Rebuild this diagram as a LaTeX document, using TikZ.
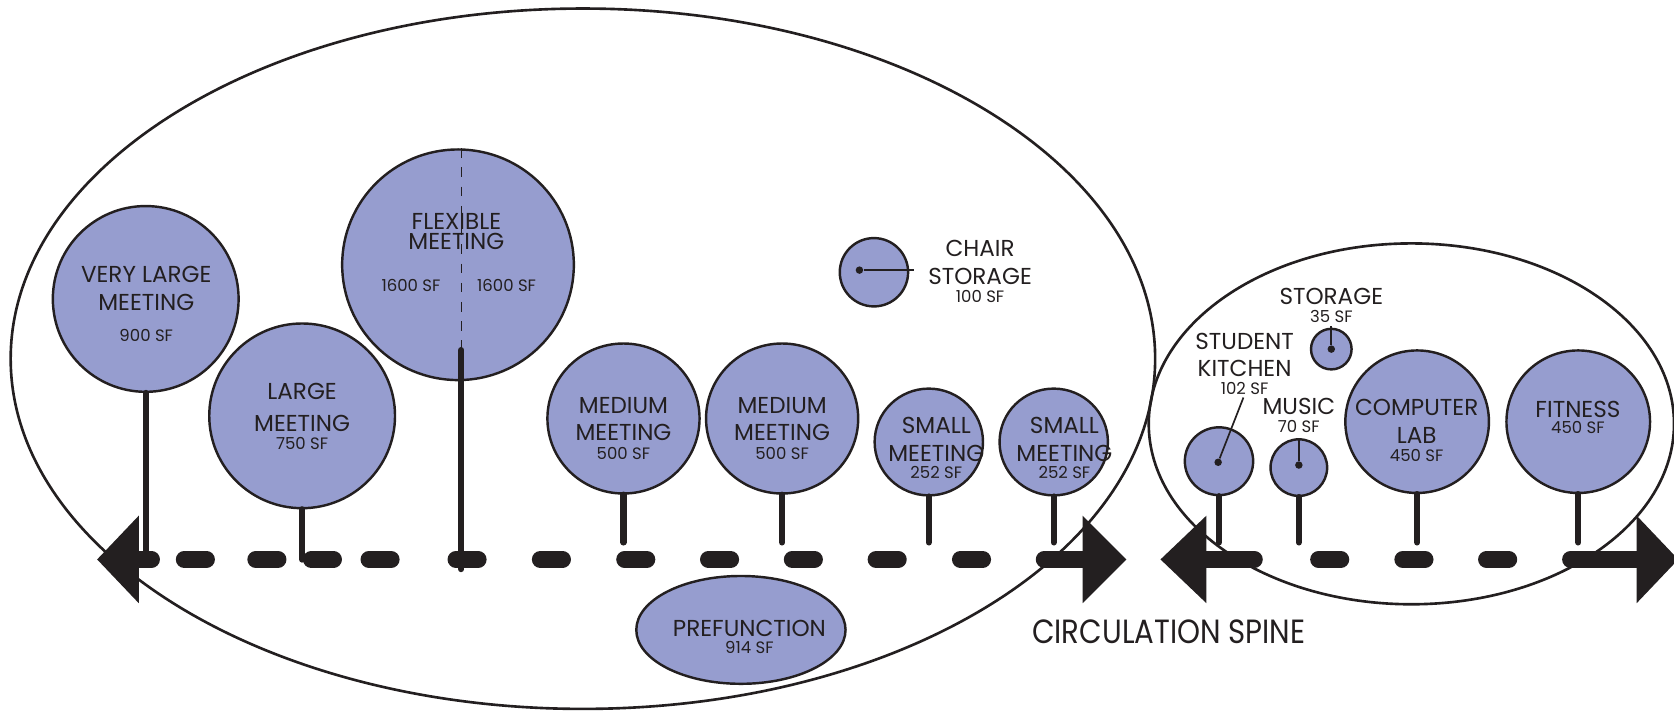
\documentclass[tikz,border=0pt]{standalone}
\usepackage{graphicx}
\usepackage{fontspec}
\setmainfont{Poppins}
\usepackage{tikz}
\usetikzlibrary{shapes.geometric}
\definecolor{ink}{RGB}{35,31,32}
\definecolor{roomblue}{RGB}{150,157,207}
\newcommand{\roomfont}{\fontsize{12.3}{15}\selectfont}
\newcommand{\areafont}{\fontsize{8.8}{9}\selectfont}
\newcommand{\spinefont}{\fontsize{17.9}{20}\selectfont}
\tikzset{
	room/.style = {ellipse, draw = ink, fill = roomblue, line width = 1.3pt, inner sep = 0mm},
	roomsize/.style 2 args = {minimum width = #1mm, minimum height = #2mm},
	zone/.style = {ellipse, draw = ink, line width = 1.4pt, inner sep = 0mm},
	roomtext/.style = {align = center, font = \roomfont, text = ink, inner sep = 0mm},
	areatext/.style = {font = \areafont, text = ink, inner sep = 0mm},
	stem/.style = {draw = ink, line width = 3.4pt, line cap = round},
	split/.style = {draw = ink, line width = 0.6pt, dash pattern = on 1.8mm off 1.8mm},
	spinebar/.style = {draw = ink, line width = 8.9pt, line cap = round},
	spinetip/.style = {fill = ink},
	pin/.style = {circle, fill = ink, minimum size = 1.4mm, inner sep = 0mm},
	leader/.style = {draw = ink, line width = 0.9pt}
}

\begin{document}
\begin{tikzpicture}[x = 0.2mm, y = -0.2mm]
	\useasboundingbox (0, 0) rectangle (1568, 666);

	% zones
	\node [zone, roomsize = {214.4}{131.2}] (hall) at (546, 336) {};
	\node [zone, roomsize = {98.4}{67.6}] (wing) at (1322, 397) {};

	% meeting rooms
	\node [room, roomsize = {34.8}{34.8}] (vlm) at (136.5, 280) {};
	\node [room, roomsize = {34.8}{34.6}] (lrg) at (283, 389.5) {};
	\node [room, roomsize = {43.4}{43.2}] (flex) at (429, 248) {};
	\node [room, roomsize = {12.8}{12.8}] (chair) at (818.6, 255) {};
	\node [room, roomsize = {28.5}{28.1}] (med1) at (584, 392) {};
	\node [room, roomsize = {28.5}{28.1}] (med2) at (732.6, 392) {};
	\node [room, roomsize = {20.3}{20}] (sm1) at (870, 414) {};
	\node [room, roomsize = {20.3}{20}] (sm2) at (987, 414) {};
	\node [room, roomsize = {39.2}{20.2}] (pref) at (694, 590) {};

	% student wing
	\node [room, roomsize = {12.8}{12.7}] (kit) at (1141.8, 432) {};
	\node [room, roomsize = {10.6}{10.6}] (mus) at (1216.6, 438) {};
	\node [room, roomsize = {7.6}{7.6}] (stor) at (1247, 327) {};
	\node [room, roomsize = {26.9}{26.7}] (comp) at (1327.4, 395) {};
	\node [room, roomsize = {26.9}{26.7}] (fit) at (1478.3, 395) {};

	% labels
	\node [roomtext] (vlmtext) at (137, 284.6) {VERY LARGE\\MEETING\\[1.2pt]{\areafont 900 SF}};
	\node [roomtext] (lrgtext) at (283, 390.4) {LARGE\\[1.8pt]MEETING\\[-5.2pt]{\areafont 750 SF}};
	\node [roomtext] (flextext) at (427.5, 217) {FLEXIBLE\\[-4.3pt]MEETING};
	\node [areatext] (flexa) at (385, 267) {1600 SF};
	\node [areatext] (flexb) at (474.5, 267) {1600 SF};
	\node [roomtext] (chairtext) at (918, 254) {CHAIR\\STORAGE\\[-5.2pt]{\areafont 100 SF}};
	\node [roomtext] (med1text) at (584, 401.4) {MEDIUM\\[-0.8pt]MEETING\\[-5pt]{\areafont 500 SF}};
	\node [roomtext] (med2text) at (732.6, 401.4) {MEDIUM\\[-0.8pt]MEETING\\[-5pt]{\areafont 500 SF}};
	\node [roomtext] (sm1text) at (877, 419.3) {SMALL\\MEETING\\[-6pt]{\areafont 252 SF}};
	\node [roomtext] (sm2text) at (997, 419.3) {SMALL\\MEETING\\[-6pt]{\areafont 252 SF}};
	\node [roomtext] (preftext) at (702, 596.5) {PREFUNCTION\\[-5.5pt]{\areafont 914 SF}};
	\node [roomtext] (kittext) at (1165.8, 340.5) {STUDENT\\[-0.4pt]KITCHEN\\[-5.7pt]{\areafont 102 SF}};
	\node [roomtext] (mustext) at (1216.6, 389.3) {MUSIC\\[-5.7pt]{\areafont 70 SF}};
	\node [roomtext] (stortext) at (1247, 286.2) {STORAGE\\[-5.7pt]{\areafont 35 SF}};
	\node [roomtext] (comptext) at (1327, 403.2) {COMPUTER\\LAB\\[-5.5pt]{\areafont 450 SF}};
	\node [roomtext] (fittext) at (1478, 391) {FITNESS\\[-6pt]{\areafont 450 SF}};

	% pins and leaders
	\node [pin] (chairpin) at (805, 253) {};
	\node [pin] (kitpin) at (1141, 433) {};
	\node [pin] (muspin) at (1216.6, 435.6) {};
	\node [pin] (storpin) at (1247, 327) {};
	\draw [leader] (chairpin) -- ([xshift = 0.9mm]chairpin -| chair.east);
	\draw [leader, shorten > = 0.6mm] (kitpin) -- (kittext.south);
	\draw [leader] (muspin) -- (mus.north);
	\draw [leader, shorten > = 0.6mm] (storpin) -- (stortext.south);

	% stems down to the spine
	\coordinate (foot) at (0, 508);
	\coordinate (spineline) at (0, 524);
	\coordinate (flexjoint) at (432, 328);
	\coordinate (flexfoot) at (432, 533);
	\draw [stem] (vlm.south) -- (vlm.south |- spineline);
	\draw [stem] (lrg.south) -- (lrg.south |- spineline);
	\draw [split] (flexjoint |- flex.north) -- (flexjoint);
	\draw [stem] (flexjoint) -- (flexfoot);
	\foreach \r in {med1, med2, sm1, sm2, kit, mus, comp, fit}
		\draw [stem] (\r.south) -- (\r.south |- foot);

	% circulation spine
	\coordinate (spineW) at (91, 524);
	\coordinate (spineE) at (1055, 524);
	\coordinate (wingW) at (1087, 524);
	\coordinate (wingE) at (1572, 524);
	\draw [spinebar] (spineW) ++(39, 0) -- ++(12, 0);
	\draw [spinebar] (spineE) ++(-77, 0) -- ++(36, 0);
	\draw [spinebar] (wingW) ++(43, 0) -- ++(45, 0);
	\draw [spinebar] (wingE) ++(-101, 0) -- ++(62, 0);
	\foreach \c in {183, 250, 302, 356, 437.5, 516.5, 595.5, 674, 752.5, 831, 910, 1245.5, 1324.4, 1402.8}
		\draw [spinebar] (\c - 10.5, 524) -- (\c + 10.5, 524);
	\fill [spinetip] (spineW) -- ++(39, -41) -- ++(0, 82) -- cycle;
	\fill [spinetip] (spineE) -- ++(-41, -41) -- ++(0, 82) -- cycle;
	\fill [spinetip] (wingW) -- ++(43, -41) -- ++(0, 82) -- cycle;
	\fill [spinetip] (wingE) -- ++(-39, -41) -- ++(0, 82) -- cycle;

	\node [text = ink, font = \spinefont, inner sep = 0mm] (spinelabel) at (1094.8, 591.7) {\scalebox{0.87}[1]{CIRCULATION SPINE}};
\end{tikzpicture}
\end{document}
